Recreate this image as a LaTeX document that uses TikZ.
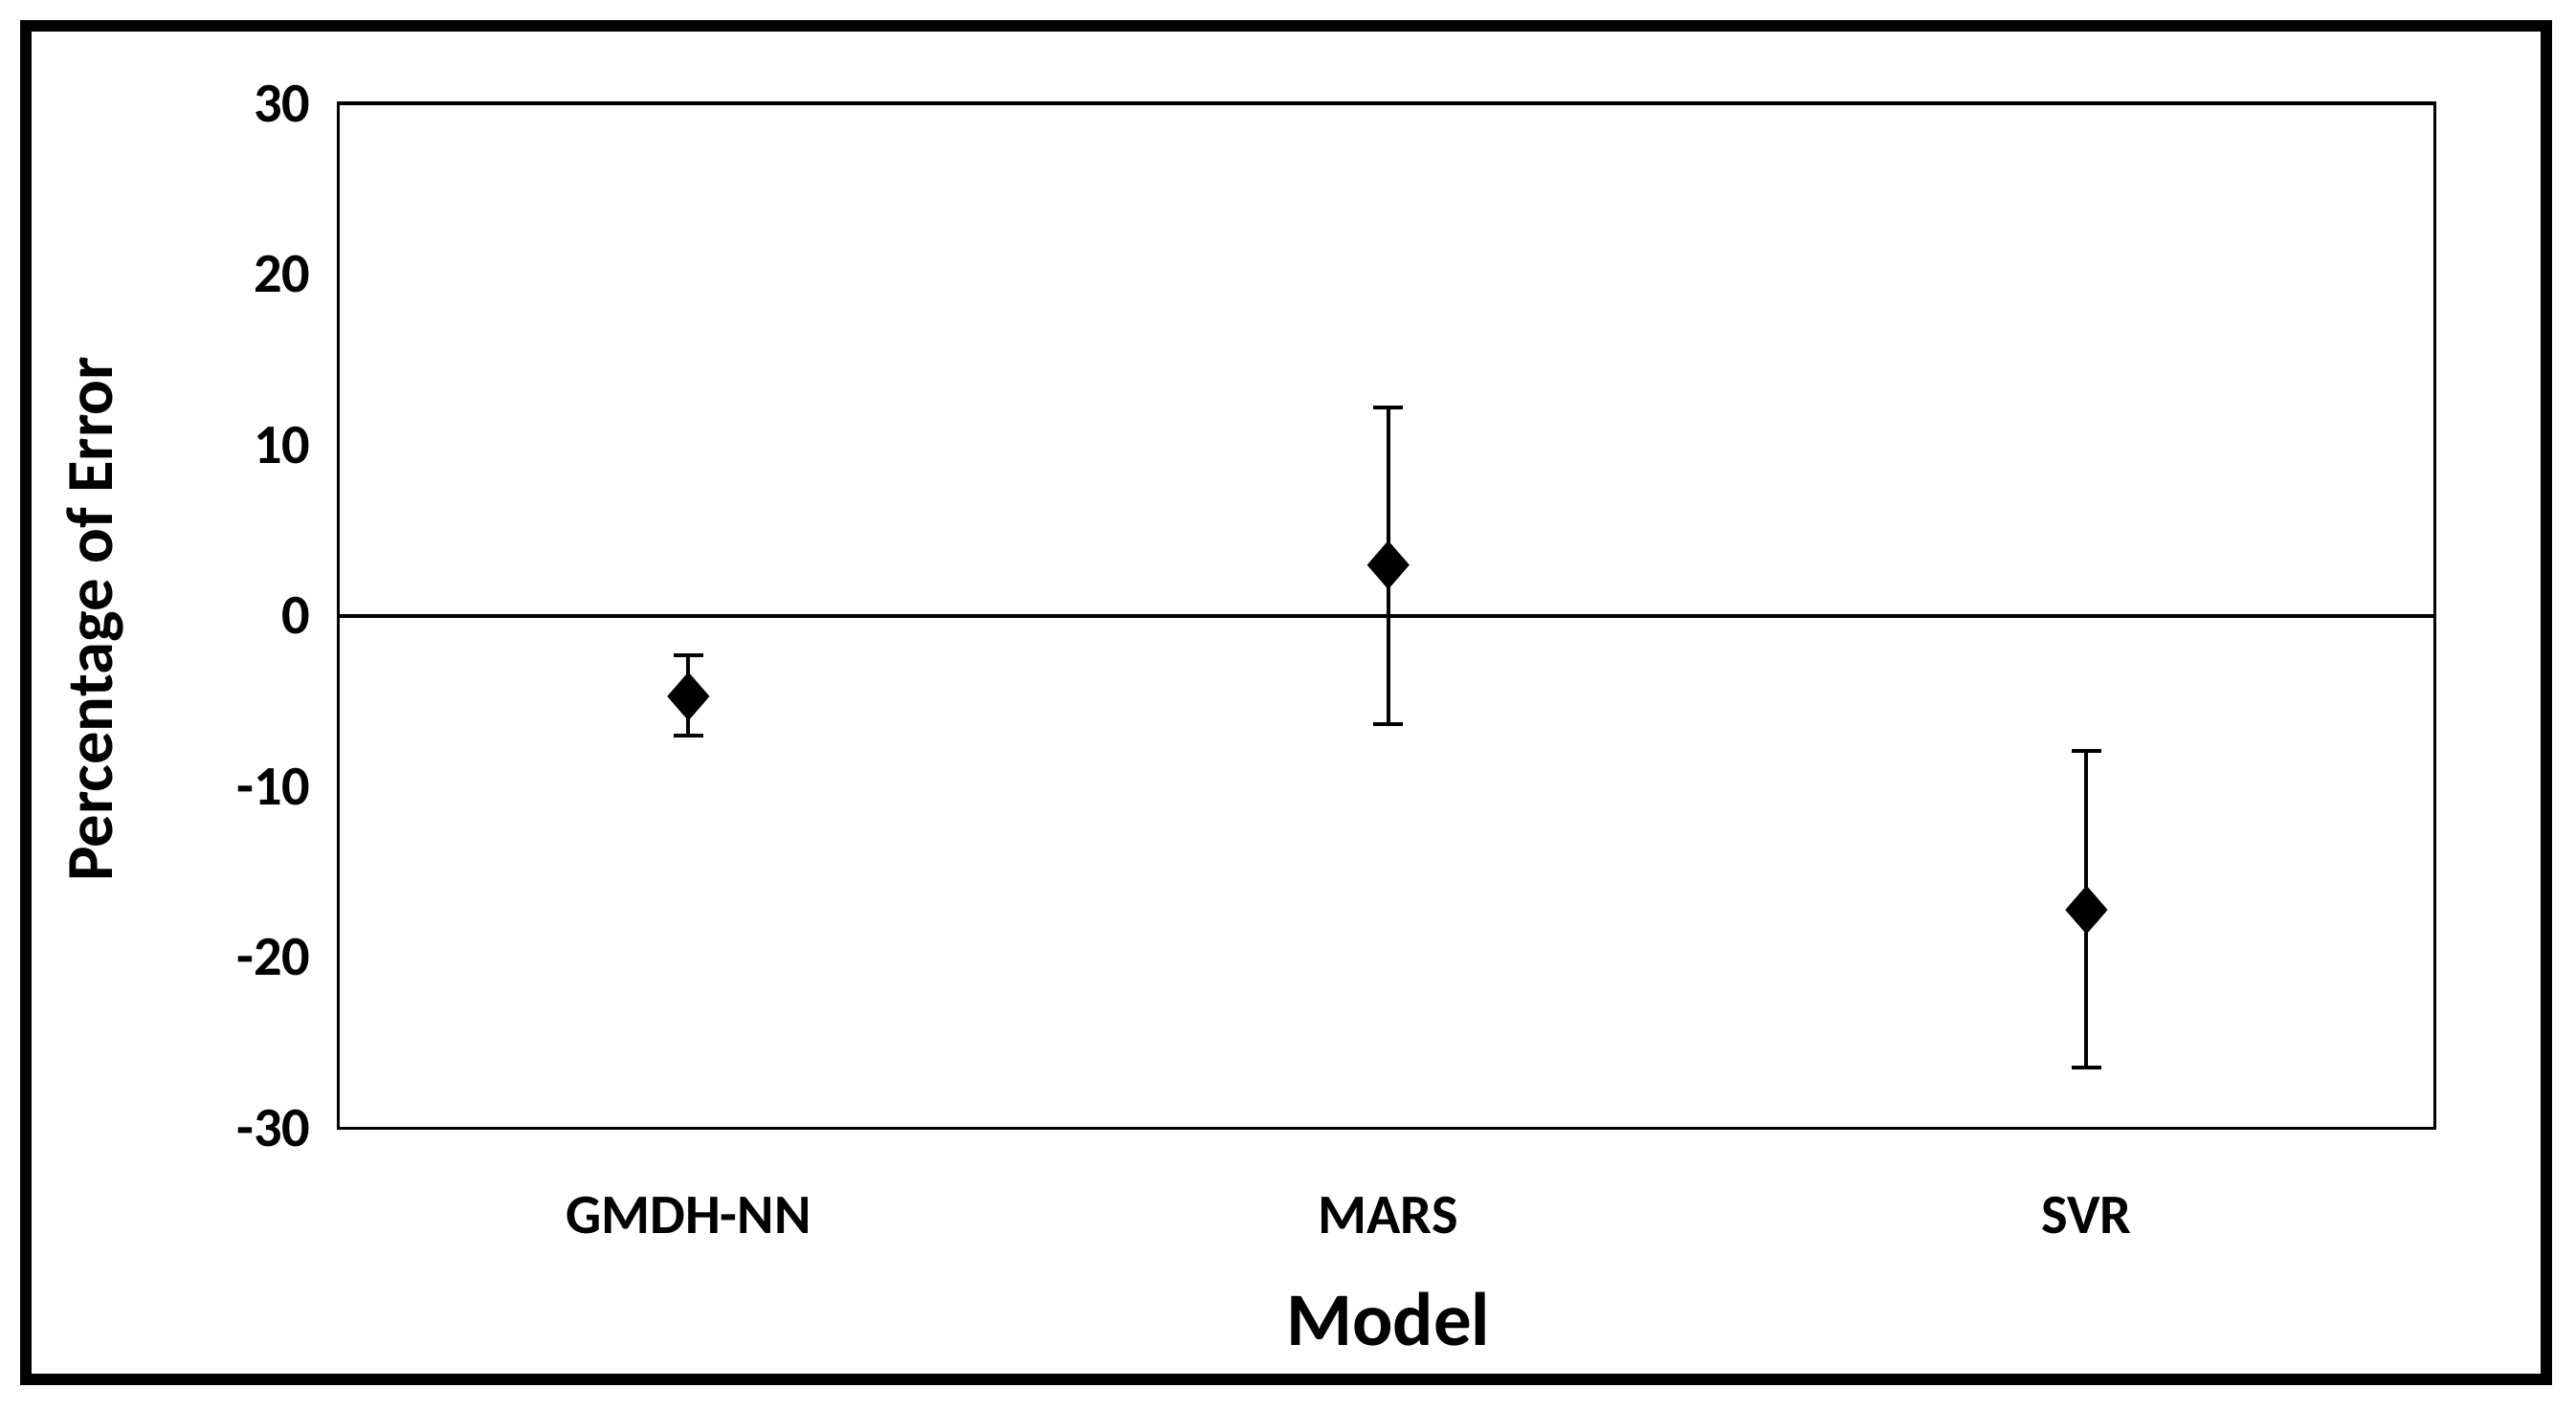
\documentclass[tikz,border=0pt]{standalone}
\usepackage{fontspec}
\setmainfont{Carlito}
\usetikzlibrary{shapes.geometric}
\begin{document}
\begin{tikzpicture}[x=0.5pt,y=-0.5pt,
  tick/.style={font=\bfseries\fontsize{17}{20}\selectfont,anchor=east},
  cat/.style={font=\bfseries\fontsize{17}{20}\selectfont},
  eb/.style={line width=1.2pt},
  mk/.style={diamond,fill=black,inner sep=0pt,minimum width=13pt,minimum height=15pt}]
\useasboundingbox (0,0) rectangle (1568,858);
\draw[line width=3.5pt] (16,16) rectangle (1550,840);
\draw[line width=1pt] (206,63) rectangle (1482,687);
\draw[line width=1pt] (206,375) -- (1482,375);
\foreach \v/\y in {30/63,20/167,10/271,0/375,-10/479,-20/583,-30/687}
  \node[tick] (t\y) at (196,\y) {\v};
\node[cat] (c1) at (419,740) {GMDH-NN};
\node[cat] (c2) at (845,740) {MARS};
\node[cat] (c3) at (1270,740) {SVR};
\node[font=\bfseries\fontsize{23}{26}\selectfont] (xl) at (845,803) {Model};
\node[font=\bfseries\fontsize{20}{24}\selectfont,rotate=90] (yl) at (58,377) {Percentage of Error};
\foreach \n/\x/\a/\b/\m in {g/419/399/448/424, m/845/248/441/344, s/1270/457/650/554}{
  \draw[eb] (\x,\a) -- (\x,\b);
  \draw[eb] (\x-9,\a) -- (\x+9,\a);
  \draw[eb] (\x-9,\b) -- (\x+9,\b);
  \node[mk] (p\n) at (\x,\m) {};
}
\end{tikzpicture}
\end{document}
